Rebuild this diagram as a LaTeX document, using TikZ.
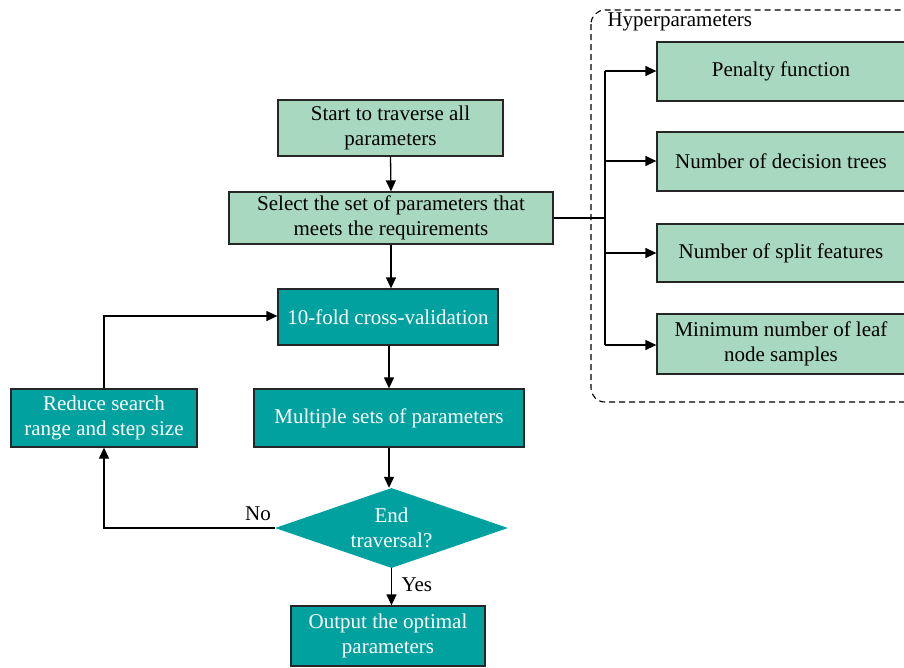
\documentclass[tikz,border=0pt]{standalone}
\usepackage{fontspec}
\setmainfont{Liberation Serif}
\usetikzlibrary{arrows.meta,shapes.geometric}
\definecolor{mint}{RGB}{168,216,192}
\definecolor{teal}{RGB}{0,161,159}
\begin{document}
\begin{tikzpicture}[x=1pt,y=-1pt,
  every node/.style={font=\fontsize{21}{25}\selectfont},
  lightbox/.style={draw=black!85,line width=1.3pt,fill=mint,align=center,inner sep=0pt},
  darkbox/.style={draw=black!85,line width=1.3pt,fill=teal,text=white,align=center,inner sep=0pt},
  arr/.style={-{Triangle[length=11pt,width=10pt]},line width=1.3pt},
  ln/.style={line width=1.3pt}]
\useasboundingbox (0,0) rectangle (904,667);
% hyperparameter group frame, running off the right edge
\begin{scope}
\clip (0,0) rectangle (904,667);
\draw[dash pattern=on 6pt off 4pt,line width=1.1pt,rounded corners=14pt] (591,10) rectangle (930,402);
\end{scope}
\node[anchor=west] (hp) at (604,22) {Hyperparameters};

% main flow
\node[lightbox,minimum width=225pt,minimum height=56pt] (start) at (390.5,128) {Start to traverse all\\parameters};
\node[lightbox,minimum width=324pt,minimum height=52pt] (select) at (391,218) {Select the set of parameters that\\meets the requirements};
\node[darkbox,minimum width=220pt,minimum height=56pt] (cv) at (388,317) {10-fold cross-validation};
\node[darkbox,minimum width=270pt,minimum height=58pt] (multi) at (389,418) {Multiple sets of parameters};
\node[darkbox,minimum width=186pt,minimum height=58pt] (reduce) at (104,418) {Reduce search\\range and step size};
\node[draw=none,fill=teal,diamond,aspect=2.91,minimum width=233pt,minimum height=80pt,inner sep=0pt] (end) at (391.5,528) {};
\node[text=white,align=center] (endtxt) at (391.5,528) {End\\traversal?};
\node[darkbox,minimum width=194pt,minimum height=60pt] (out) at (388,636) {Output the optimal\\parameters};

% hyperparameter boxes
\node[lightbox,minimum width=248pt,minimum height=59pt] (pen) at (781,71.5) {Penalty function};
\node[lightbox,minimum width=248pt,minimum height=59pt] (trees) at (781,161.5) {Number of decision trees};
\node[lightbox,minimum width=248pt,minimum height=58pt] (feat) at (781,253) {Number of split features};
\node[lightbox,minimum width=248pt,minimum height=60pt] (leaf) at (781,344) {Minimum number of leaf\\node samples};

% connectors
\draw[arr] (start.south) -- (select.north);
\draw[arr] (select.south) -- (select.south |- cv.north);
\draw[arr] (cv.south -| multi.north) -- (multi.north);
\draw[arr] (multi.south) -- (multi.south |- end.north);
\draw[arr] (end.south) -- (end.south |- out.north);
\node[anchor=west] (yes) at (398,585) {Yes};
\draw[arr] (end.west) -| (reduce.south);
\node (no) at (258,514) {No};
\draw[arr] (reduce.north) |- (cv.west |- 0,316);

\coordinate (br) at (605,218);
\draw[ln] (select.east) -- (br);
\draw[ln] (605,71) -- (605,345);
\draw[arr] (605,71) -- (pen.west |- 0,71);
\draw[arr] (605,161) -- (trees.west |- 0,161);
\draw[arr] (605,253) -- (feat.west |- 0,253);
\draw[arr] (605,345) -- (leaf.west |- 0,345);
\end{tikzpicture}
\end{document}
